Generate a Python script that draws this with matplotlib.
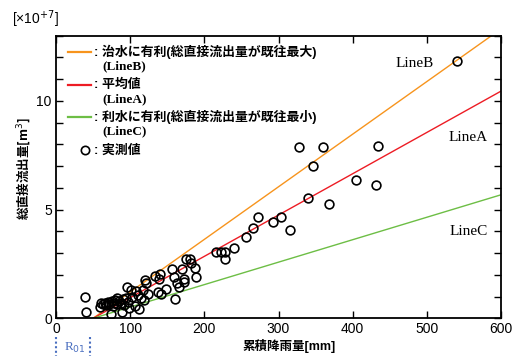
import numpy as np
import matplotlib.pyplot as plt
from matplotlib.lines import Line2D
import matplotlib.transforms as mtransforms

plt.rcParams['font.family'] = ['Liberation Sans', 'Noto Sans CJK JP']

# observed events: cumulative rainfall [mm], total direct runoff [x10^7 m3]
rain = [39, 41, 59, 61, 64, 66, 68, 70, 72, 74, 75, 77, 78, 80, 82, 82, 85, 87,
        89, 90, 92, 94, 96, 97, 99, 101, 103, 106, 108, 110, 112, 114, 117, 119,
        120, 122, 124, 134, 137, 139, 140, 142, 148, 156, 159, 160, 163, 166,
        170, 172, 173, 175, 180, 182, 187, 189, 216, 222, 228, 228, 240, 256,
        266, 272, 293, 303, 315, 327, 340, 346, 360, 368, 404, 432, 434, 540]
runoff = [0.97, 0.27, 0.50, 0.70, 0.66, 0.72, 0.60, 0.75, 0.68, 0.18, 0.80, 0.55,
          0.72, 0.85, 0.95, 0.65, 0.78, 0.70, 0.27, 0.88, 0.62, 0.95, 1.43, 0.75,
          0.49, 1.30, 1.00, 0.57, 1.27, 1.05, 0.43, 0.95, 1.30, 0.84, 1.77, 1.61,
          1.12, 1.95, 1.23, 1.81, 2.04, 1.10, 1.35, 2.27, 1.92, 0.90, 1.64, 1.43,
          2.27, 1.80, 1.66, 2.73, 2.73, 2.55, 2.33, 1.92, 3.04, 3.05, 3.04, 2.72,
          3.24, 3.75, 4.16, 4.67, 4.41, 4.65, 4.08, 7.86, 5.53, 7.02, 7.86, 5.24,
          6.37, 6.13, 7.94, 11.85]

r0 = 50  # initial loss rainfall [mm]
line_names = ['LineB', 'LineA', 'LineC']
slopes = [0.0242, 0.0190, 0.01033]
line_colors = ['#F7941D', '#ED1C24', '#6DBE45']
# where each line's name is written (rainfall, runoff)
name_pos = [(484, 11.72), (556, 8.32), (556, 3.98)]

W, H = 522, 356
fig = plt.figure(figsize=(W / 100, H / 100), dpi=100)
ax = fig.add_axes([56 / W, 1 - 318.3 / H, 445 / W, 282.6 / H])

xs = np.array([r0, 600])
for name, k, c in zip(line_names, slopes, line_colors):
    ax.plot(xs, k * (xs - r0), color=c, lw=1.0, clip_on=True)

ax.plot(rain, runoff, 'o', ms=6.3, mfc='none', mec='black', mew=1.2)

ax.set_xlim(0, 600)
ax.set_ylim(0, 13)
ax.set_xticks([0, 100, 200, 300, 400, 500, 600])
ax.set_yticks([0, 5, 10])
ax.set_yticks(np.arange(0, 14, 1), minor=True)
ax.tick_params(which='both', direction='in', top=True, right=True,
               labelsize=10, width=1, length=5, pad=3)
for s in ax.spines.values():
    s.set_linewidth(1.3)

serif = 'Liberation Serif'
for name, (px, py) in zip(line_names, name_pos):
    ax.text(px, py, name, family=serif, fontsize=11, ha='center', va='center')


def fx(px):
    return px / W


def fy(py):
    return 1 - py / H


# hand-made legend
leg_font = ['Liberation Sans', 'Noto Sans CJK JP']
labels = [': 治水に有利(総直接流出量が既往最大)', ': 平均値', ': 利水に有利(総直接流出量が既往最小)']
rows = [52.3, 85.3, 117.3]
for lab, name, c, py in zip(labels, line_names, line_colors, rows):
    fig.add_artist(Line2D([fx(68), fx(91)], [fy(py), fy(py)], color=c, lw=1.6))
    fig.text(fx(94), fy(py), lab, family=leg_font, fontsize=9.3, weight='bold',
             va='center', ha='left')
    fig.text(fx(102), fy(py + 14), '(' + name + ')', family=serif, fontsize=9.5,
             weight='bold', va='center', ha='left')
fig.add_artist(Line2D([fx(85)], [fy(150.5)], marker='o', ms=6, mfc='none',
                      mec='black', mew=1.2))
fig.text(fx(94), fy(150.5), ': 実測値', family=leg_font, fontsize=9.3,
         weight='bold', va='center', ha='left')

# axis titles
fig.text(fx(12), fy(19), '[×10$^{+7}$]', fontsize=10, va='center', ha='left')
fig.text(fx(23), fy(168), '総直接流出量[m$^3$]', family='Noto Sans CJK JP', fontsize=9,
         weight='bold', rotation=90, va='center', ha='center')
fig.text(fx(289), fy(346), '累積降雨量[mm]', family=leg_font, fontsize=9,
         weight='bold', va='center', ha='center')

# R0 marker below the axis
trans = mtransforms.blended_transform_factory(ax.transData, fig.transFigure)
for xv in [0, r0 - 4]:
    fig.add_artist(Line2D([xv, xv], [fy(337), 0], transform=trans, color='#4A6FC0',
                          lw=1.5, ls=(0, (1, 1.2))))
fig.text(fx(64), fy(341), 'R$_{01}$', family=serif, fontsize=9.5, color='#4A6FC0',
         va='top', ha='left')

fig.savefig('out.png', dpi=100)
